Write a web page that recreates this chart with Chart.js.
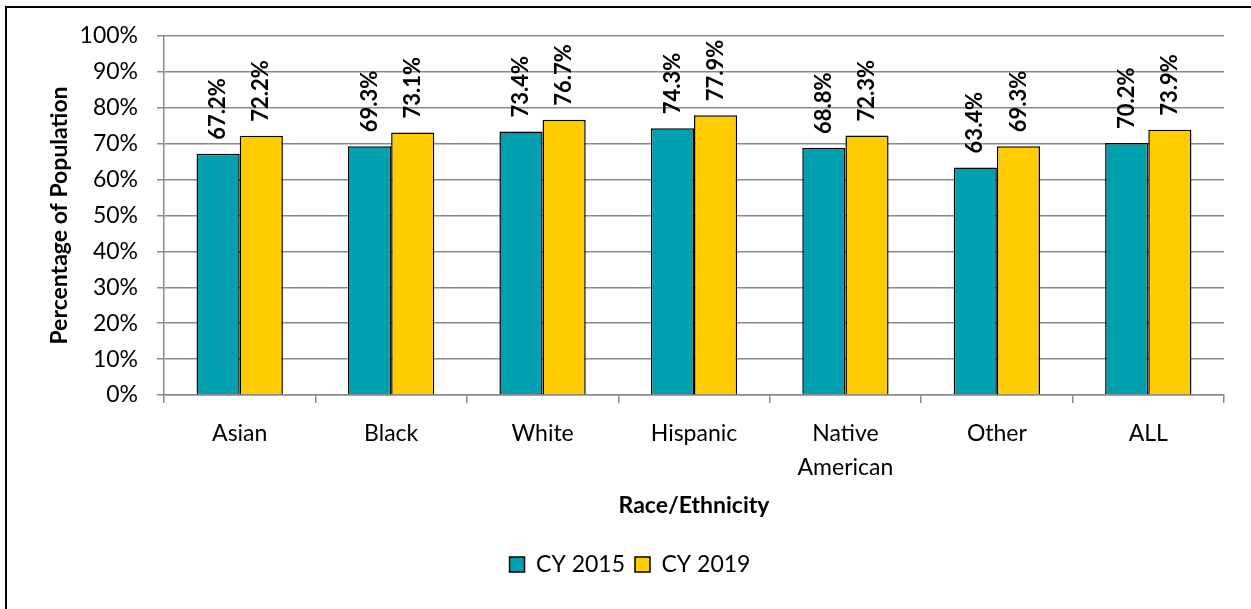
<!DOCTYPE html>
<html>
<head>
<meta charset="utf-8">
<script src="https://cdn.jsdelivr.net/npm/chart.js@4/dist/chart.umd.min.js"></script>
<style>
  html, body { margin: 0; padding: 0; background: #fff; }
  #wrap { position: relative; width: 1251px; height: 609px; overflow: hidden; }
  #frame { position: absolute; left: 5px; top: 6px; width: 1300px; height: 700px;
           border-left: 2px solid #000; border-top: 2px solid #000; }
  canvas { position: absolute; left: 0; top: 0; }
</style>
</head>
<body>
<div id="wrap">
  <div id="frame"></div>
  <canvas id="chart" width="1251" height="609"></canvas>
</div>
<script>
const categories = ['Asian', 'Black', 'White', 'Hispanic', ['Native', 'American'], 'Other', 'ALL'];
const cy2015 = [67.2, 69.3, 73.4, 74.3, 68.8, 63.4, 70.2];
const cy2019 = [72.2, 73.1, 76.7, 77.9, 72.3, 69.3, 73.9];

const font = 'Lato, "Noto Sans", sans-serif';
const gridColor = '#8a8a8a';

// rotated value labels above each bar
const barLabels = {
    id: 'barLabels',
    afterDatasetsDraw(chart) {
        const ctx = chart.ctx;
        ctx.save();
        ctx.font = 'bold 22px ' + font;
        ctx.fillStyle = '#000';
        ctx.textAlign = 'left';
        ctx.textBaseline = 'middle';
        chart.data.datasets.forEach((ds, i) => {
            chart.getDatasetMeta(i).data.forEach((bar, j) => {
                ctx.save();
                ctx.translate(bar.x, bar.y - 14);
                ctx.rotate(-Math.PI / 2);
                ctx.fillText(ds.data[j].toFixed(1) + '%', 0, 0);
                ctx.restore();
            });
        });
        ctx.restore();
    }
};

new Chart(document.getElementById('chart'), {
    type: 'bar',
    data: {
        labels: categories,
        datasets: [
            { label: 'CY 2015', data: cy2015, backgroundColor: '#00A0AF', borderColor: '#000', borderWidth: 1.5 },
            { label: 'CY 2019', data: cy2019, backgroundColor: '#FFCC00', borderColor: '#000', borderWidth: 1.5 },
        ],
    },
    options: {
        responsive: false,
        animation: false,
        datasets: { bar: { categoryPercentage: 0.57, barPercentage: 1.0 } },
        layout: { padding: { left: 36, right: 27, top: 36, bottom: 23 } },
        plugins: {
            tooltip: { enabled: false },
            legend: {
                position: 'bottom',
                labels: {
                    font: { family: font, size: 23 },
                    color: '#000',
                    boxWidth: 15,
                    boxHeight: 15,
                    padding: 10,
                },
            },
        },
        scales: {
            x: {
                grid: { drawOnChartArea: false, drawTicks: true, tickLength: 8, color: gridColor, lineWidth: 1.5 },
                border: { color: gridColor, width: 1.5 },
                ticks: { font: { family: font, size: 23, lineHeight: 1.48 }, color: '#000', padding: 14, maxRotation: 0 },
                title: {
                    display: true,
                    text: 'Race/Ethnicity',
                    font: { family: font, size: 23, weight: 'bold' },
                    color: '#000',
                    padding: { top: 0, bottom: 24 },
                },
                afterFit(scale) { scale.height = 148; },
            },
            y: {
                min: 0,
                max: 100,
                grid: { color: gridColor, lineWidth: 1.5, tickLength: 7 },
                border: { color: gridColor, width: 1.5 },
                ticks: { stepSize: 10, font: { family: font, size: 23 }, color: '#000', padding: 19,
                         callback: v => v + '%' },
                title: {
                    display: true,
                    text: 'Percentage of Population',
                    font: { family: font, size: 23, weight: 'bold' },
                    color: '#000',
                    padding: { top: 10, bottom: 0 },
                },
                afterFit(scale) { scale.width = 128; },
            },
        },
    },
    plugins: [barLabels],
});
</script>
</body>
</html>
